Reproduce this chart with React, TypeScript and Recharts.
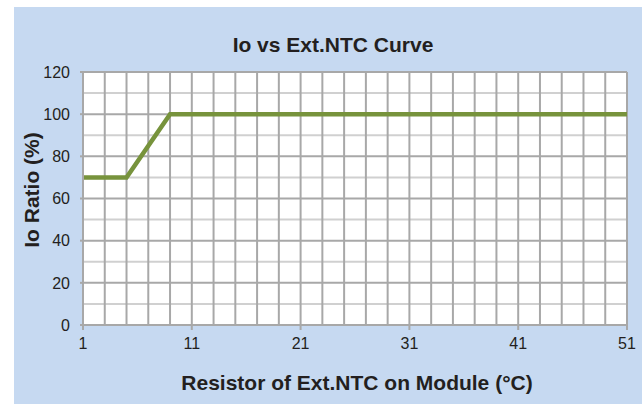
import {
  LineChart,
  Line,
  XAxis,
  YAxis,
  ReferenceLine,
} from "recharts";

const resistorValues = [1, 5, 9, 51];
const ioRatio = [70, 70, 100, 100];
const xTicks = [1, 11, 21, 31, 41, 51];
const yTicks = [0, 20, 40, 60, 80, 100, 120];
const xGridValues = [
  3, 5, 7, 9, 11, 13, 15, 17, 19, 21, 23, 25, 27, 29, 31, 33, 35, 37, 39, 41,
  43, 45, 47, 49, 51,
];
const yMajorGrid = [20, 40, 60, 80, 100, 120];
const yMinorGrid = [10, 30, 50, 70, 90, 110];

const data = resistorValues.map((x, i) => ({ x, ratio: ioRatio[i] }));

const textColor = "#231f20";
const font = '"Liberation Sans", Arial, sans-serif';

export default function App() {
  return (
    <div
      style={{
        position: "absolute",
        left: 0,
        top: 0,
        width: 644,
        height: 404,
        background: "#ffffff",
        fontFamily: font,
        overflow: "hidden",
      }}
    >
      <div
        style={{
          position: "absolute",
          left: 14,
          top: 7,
          width: 628,
          height: 397,
          background: "#c6d9f1",
        }}
      />
      <div
        style={{
          position: "absolute",
          left: 0,
          top: 0,
          width: 644,
          height: 404,
        }}
      >
        <LineChart
          width={644}
          height={404}
          data={data}
          margin={{ top: 72, right: 17, bottom: 49, left: 43 }}
        >
          <rect x={83} y={72} width={544} height={253} fill="#ffffff" />
          {yMinorGrid.map((v) => (
            <ReferenceLine key={"ym" + v} y={v} stroke="#d0d0d0" strokeWidth={2} />
          ))}
          {xGridValues.map((v) => (
            <ReferenceLine key={"x" + v} x={v} stroke="#a8a8a8" strokeWidth={2} />
          ))}
          {yMajorGrid.map((v) => (
            <ReferenceLine key={"y" + v} y={v} stroke="#a8a8a8" strokeWidth={2} />
          ))}
          <XAxis
            type="number"
            dataKey="x"
            domain={[1, 51]}
            ticks={xTicks}
            interval={0}
            height={30}
            tickSize={5}
            tickMargin={8}
            axisLine={{ stroke: "#a8a8a8", strokeWidth: 2 }}
            tickLine={{ stroke: "#a8a8a8", strokeWidth: 2 }}
            tick={{ fill: textColor, fontSize: 16, fontFamily: font }}
          />
          <YAxis
            type="number"
            domain={[0, 120]}
            ticks={yTicks}
            interval={0}
            width={40}
            tickSize={3}
            tickMargin={10}
            axisLine={{ stroke: "#a8a8a8", strokeWidth: 2 }}
            tickLine={{ stroke: "#a8a8a8", strokeWidth: 2 }}
            tick={{ fill: textColor, fontSize: 16, fontFamily: font }}
          />
          <Line
            type="linear"
            dataKey="ratio"
            stroke="#77933c"
            strokeWidth={4.5}
            dot={false}
            isAnimationActive={false}
          />
        </LineChart>
      </div>
      <div
        style={{
          position: "absolute",
          left: 133,
          top: 33,
          width: 400,
          textAlign: "center",
          fontSize: 21,
          lineHeight: "24px",
          fontWeight: "bold",
          color: textColor,
        }}
      >
        Io vs Ext.NTC Curve
      </div>
      <div
        style={{
          position: "absolute",
          left: 107,
          top: 371,
          width: 500,
          textAlign: "center",
          fontSize: 21,
          lineHeight: "24px",
          fontWeight: "bold",
          color: textColor,
        }}
      >
        Resistor of Ext.NTC on Module (°C)
      </div>
      <div
        style={{
          position: "absolute",
          left: 32 - 100,
          top: 190 - 12,
          width: 200,
          textAlign: "center",
          fontSize: 21,
          lineHeight: "24px",
          fontWeight: "bold",
          color: textColor,
          transform: "rotate(-90deg)",
        }}
      >
        Io Ratio (%)
      </div>
    </div>
  );
}
